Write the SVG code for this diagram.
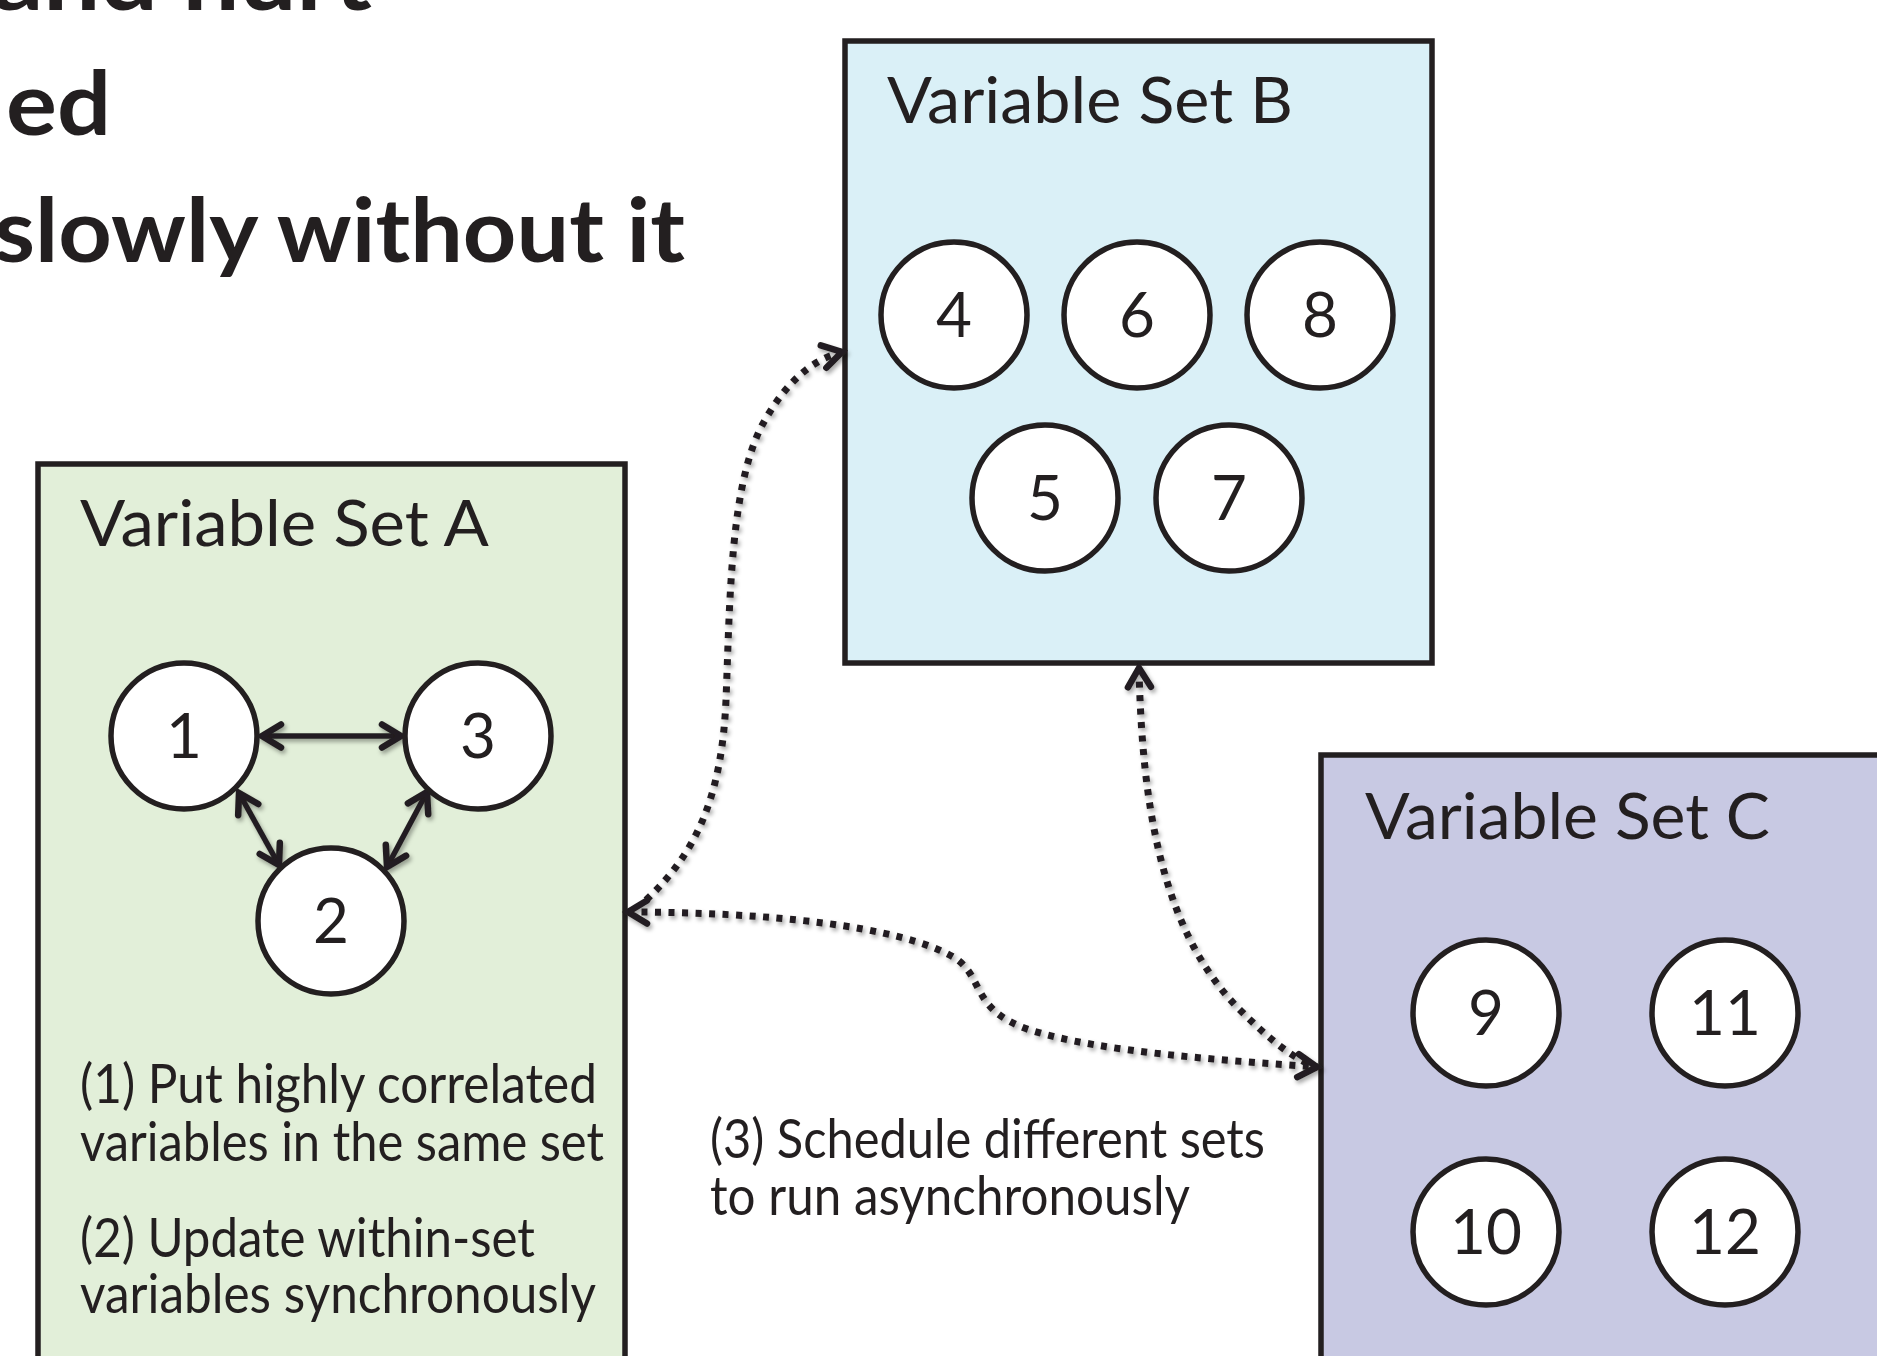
<svg xmlns="http://www.w3.org/2000/svg" width="1877" height="1356" viewBox="0 0 1877 1356">
  <style>
    .box { stroke: #231F20; stroke-width: 5.5; stroke-linejoin: miter; }
    .node circle { fill: #FFFFFF; stroke: #231F20; stroke-width: 5.5; }
    .num { font-family: Lato, "Open Sans", sans-serif; font-size: 62px; fill: #231F20; text-anchor: middle; }
    .title { font-family: Lato, "Open Sans", sans-serif; font-size: 63px; fill: #231F20; }
    .cap { font-family: Lato, "Open Sans", sans-serif; font-size: 55px; fill: #231F20; }
    .head { font-family: Lato, "Open Sans", sans-serif; font-size: 88px; font-weight: 700; fill: #231F20; }
    .dot { fill: none; stroke: #231F20; stroke-width: 7; stroke-dasharray: 6 7.5; }
    .solid { fill: none; stroke: #231F20; stroke-width: 5.5; }
  </style>
  <defs>
    <marker id="chev" markerUnits="userSpaceOnUse" markerWidth="40" markerHeight="40" viewBox="-25 -20 30 40" refX="0" refY="0" orient="auto-start-reverse" overflow="visible">
      <path d="M -19,-11.5 L 0,0 L -19,11.5" fill="none" stroke="#231F20" stroke-width="6.5" stroke-linecap="round" stroke-linejoin="miter" stroke-dasharray="none"/>
    </marker>
    <filter id="sh" x="-10%" y="-10%" width="130%" height="130%">
      <feDropShadow dx="2" dy="3" stdDeviation="2" flood-color="#000000" flood-opacity="0.35"/>
    </filter>
  </defs>

  <rect width="1877" height="1356" fill="#FFFFFF"/>

  <g id="heading">
    <text class="head" x="372" y="10" text-anchor="end" textLength="380" lengthAdjust="spacingAndGlyphs">and hurt</text>
    <text class="head" x="6" y="135" textLength="105" lengthAdjust="spacingAndGlyphs">ed</text>
    <text class="head" x="-6" y="262" textLength="691" lengthAdjust="spacingAndGlyphs">slowly without it</text>
  </g>

  <g id="setA">
    <rect class="box" x="38" y="464" width="587" height="1000" fill="#E2EFD9"/>
    <text class="title" x="80" y="546" textLength="409" lengthAdjust="spacingAndGlyphs">Variable Set A</text>
    <text class="cap" x="80" y="1103" textLength="517" lengthAdjust="spacingAndGlyphs">(1) Put highly correlated</text>
    <text class="cap" x="80" y="1161" textLength="524" lengthAdjust="spacingAndGlyphs">variables in the same set</text>
    <text class="cap" x="80" y="1257" textLength="455" lengthAdjust="spacingAndGlyphs">(2) Update within-set</text>
    <text class="cap" x="80" y="1313" textLength="516" lengthAdjust="spacingAndGlyphs">variables synchronously</text>
  </g>

  <g id="setB">
    <rect class="box" x="845" y="41" width="587" height="622" fill="#DAF0F7"/>
    <text class="title" x="887" y="123" textLength="406" lengthAdjust="spacingAndGlyphs">Variable Set B</text>
  </g>

  <g id="setC">
    <rect class="box" x="1321" y="755" width="700" height="700" fill="#C8C9E3"/>
    <text class="title" x="1365" y="839" textLength="405" lengthAdjust="spacingAndGlyphs">Variable Set C</text>
  </g>

  <g id="note3">
    <text class="cap" x="710" y="1158" textLength="555" lengthAdjust="spacingAndGlyphs">(3) Schedule different sets</text>
    <text class="cap" x="710" y="1215" textLength="480" lengthAdjust="spacingAndGlyphs">to run asynchronously</text>
  </g>

  <g id="connectors" filter="url(#sh)">
    <line class="solid" x1="262" y1="736" x2="401" y2="736" marker-start="url(#chev)" marker-end="url(#chev)"/>
    <line class="solid" x1="239" y1="793" x2="279" y2="865" marker-start="url(#chev)" marker-end="url(#chev)"/>
    <line class="solid" x1="427" y1="792" x2="387" y2="867" marker-start="url(#chev)" marker-end="url(#chev)"/>
    <path class="dot" d="M 646,900 C 700,850 722,790 726,700 C 730,600 730,480 765,420 C 785,385 810,360 842,352" marker-end="url(#chev)"/>
    <path class="dot" d="M 1139,668 C 1142,800 1160,930 1240,1010 C 1270,1040 1295,1060 1317,1067" marker-start="url(#chev)"/>
    <path class="dot" d="M 628,912 C 760,912 900,925 955,958 C 985,978 970,1010 1030,1030 C 1100,1052 1220,1060 1317,1067" marker-start="url(#chev)" marker-end="url(#chev)"/>
  </g>

  <g id="n1" class="node"><circle cx="184" cy="736" r="73"/><text class="num" x="184" y="758">1</text></g>
  <g id="n2" class="node"><circle cx="331" cy="921" r="73"/><text class="num" x="331" y="943">2</text></g>
  <g id="n3" class="node"><circle cx="478" cy="736" r="73"/><text class="num" x="478" y="758">3</text></g>
  <g id="n4" class="node"><circle cx="954" cy="315" r="73"/><text class="num" x="954" y="337">4</text></g>
  <g id="n6" class="node"><circle cx="1137" cy="315" r="73"/><text class="num" x="1137" y="337">6</text></g>
  <g id="n8" class="node"><circle cx="1320" cy="315" r="73"/><text class="num" x="1320" y="337">8</text></g>
  <g id="n5" class="node"><circle cx="1045" cy="498" r="73"/><text class="num" x="1045" y="520">5</text></g>
  <g id="n7" class="node"><circle cx="1229" cy="498" r="73"/><text class="num" x="1229" y="520">7</text></g>
  <g id="n9" class="node"><circle cx="1486" cy="1013" r="73"/><text class="num" x="1486" y="1035">9</text></g>
  <g id="n11" class="node"><circle cx="1725" cy="1013" r="73"/><text class="num" x="1725" y="1035">11</text></g>
  <g id="n10" class="node"><circle cx="1486" cy="1232" r="73"/><text class="num" x="1486" y="1254">10</text></g>
  <g id="n12" class="node"><circle cx="1725" cy="1232" r="73"/><text class="num" x="1725" y="1254">12</text></g>
</svg>
